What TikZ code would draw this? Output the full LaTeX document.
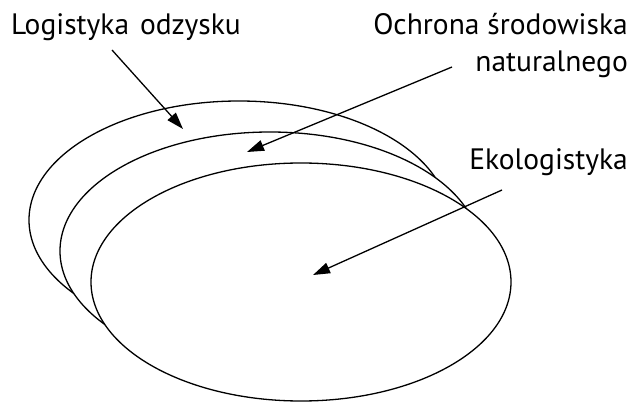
\documentclass[tikz,border=0pt]{standalone}
\usepackage{fontspec}
\setmainfont{PT Sans}
\usetikzlibrary{shapes.geometric,arrows.meta}
\tikzset{
  oval/.style={ellipse, draw, fill=white, line width=1.3pt, minimum width=420pt, minimum height=238pt, inner sep=0pt},
  lbl/.style={inner sep=0pt, font=\fontsize{29.5}{37}\selectfont},
  pointer/.style={line width=1.3pt, -{Triangle[length=17pt,width=11pt]}}
}
\begin{document}
\begin{tikzpicture}[x=1pt,y=-1pt]
\useasboundingbox (0,0) rectangle (634,403);
\node[oval] (e1) at (239,220) {};
\node[oval] (e2) at (270,251) {};
\node[oval] (e3) at (301,282) {};
\node[lbl, anchor=base west] (l1) at (11,35) {Logistyka\hspace{0.1em} odzysku};
\node[lbl, anchor=base east, align=right] (l2) at (628,72) {Ochrona środowiska\\naturalnego};
\node[lbl, anchor=base east] (l3) at (628,170) {Ekologistyka};
\coordinate (s1) at (112,50);
\coordinate (t1) at (183,129);
\coordinate (s2) at (452,67);
\coordinate (t2) at (247,152);
\coordinate (s3) at (502,190);
\coordinate (t3) at (313,275);
\draw[pointer] (s1) -- (t1);
\draw[pointer] (s2) -- (t2);
\draw[pointer] (s3) -- (t3);
\end{tikzpicture}
\end{document}
